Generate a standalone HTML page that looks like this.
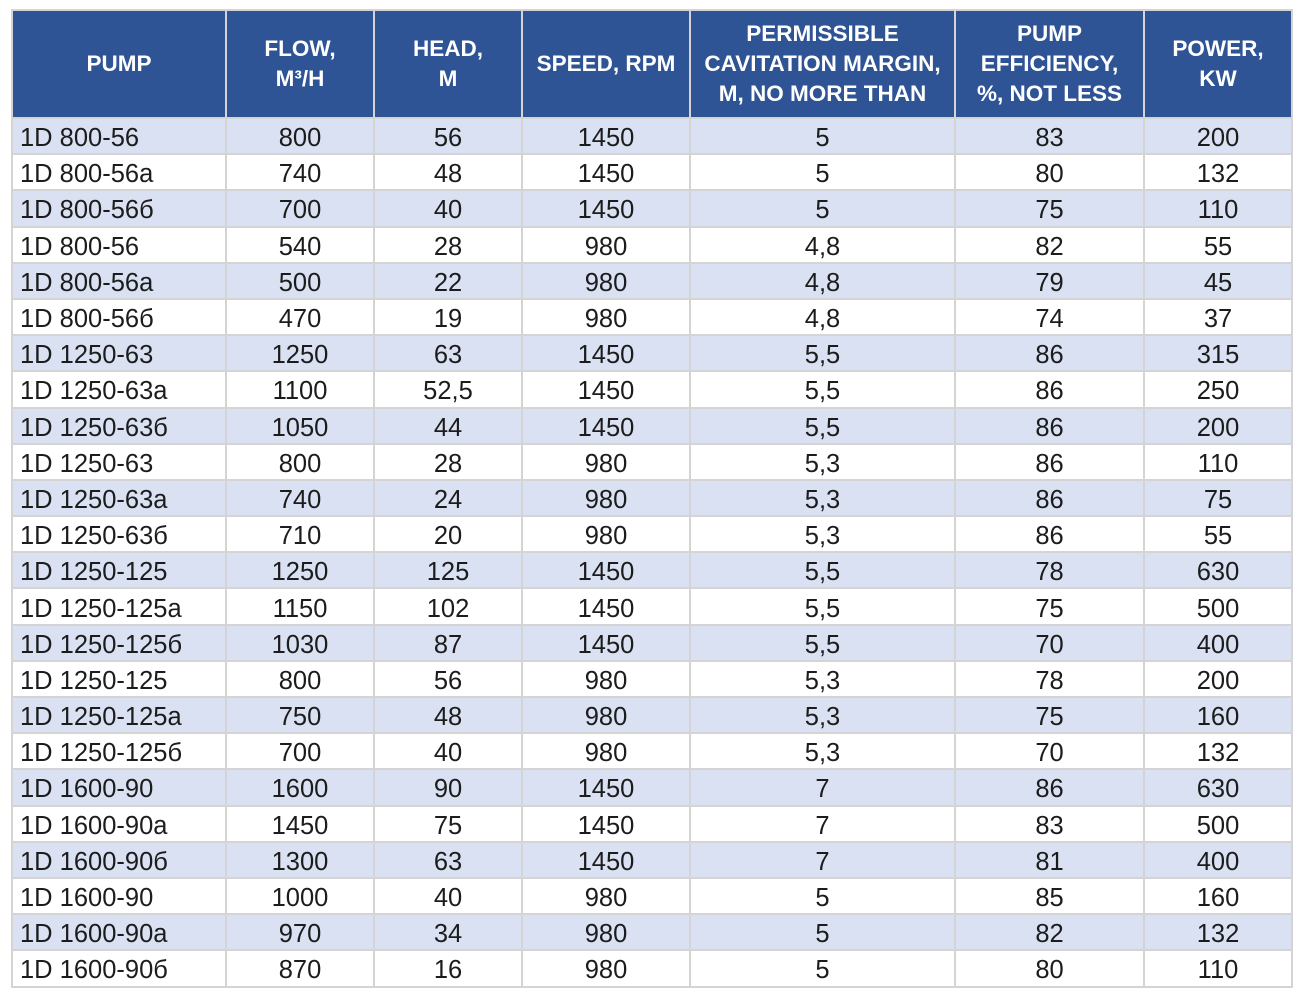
<!DOCTYPE html>
<html><head><meta charset="utf-8"><style>
html,body{margin:0;padding:0;background:#fff;width:1302px;height:1000px;overflow:hidden}
table{position:absolute;left:11px;top:9px;border-collapse:collapse;table-layout:fixed;font-family:"Liberation Sans",Arial,sans-serif}
td,th{border:2px solid #d4d4d4;padding:0;text-align:center;font-size:25.5px;color:#1c1c1c;white-space:nowrap;overflow:hidden}
td{height:30.2px;line-height:30px;padding-top:4px;vertical-align:middle}
th{background:#2f5496;color:#fff;font-weight:bold;font-size:22.5px;line-height:30px;height:106px;border-color:#d4d4d4}
td:first-child{text-align:left;padding-left:7px}
tr:nth-child(even) td{background:#d9e1f2}
tr:nth-child(odd) td{background:#fff}
</style></head><body>
<table>
<colgroup><col style="width:214px"><col style="width:148px"><col style="width:148px"><col style="width:168px"><col style="width:265px"><col style="width:189px"><col style="width:148px"></colgroup>
<tr><th>PUMP</th><th>FLOW,<br>M³/H</th><th>HEAD,<br>M</th><th>SPEED, RPM</th><th>PERMISSIBLE<br>CAVITATION MARGIN,<br>M, NO MORE THAN</th><th>PUMP<br>EFFICIENCY,<br>%, NOT LESS</th><th>POWER,<br>KW</th></tr>
<tr><td>1D 800-56</td><td>800</td><td>56</td><td>1450</td><td>5</td><td>83</td><td>200</td></tr>
<tr><td>1D 800-56a</td><td>740</td><td>48</td><td>1450</td><td>5</td><td>80</td><td>132</td></tr>
<tr><td>1D 800-56б</td><td>700</td><td>40</td><td>1450</td><td>5</td><td>75</td><td>110</td></tr>
<tr><td>1D 800-56</td><td>540</td><td>28</td><td>980</td><td>4,8</td><td>82</td><td>55</td></tr>
<tr><td>1D 800-56a</td><td>500</td><td>22</td><td>980</td><td>4,8</td><td>79</td><td>45</td></tr>
<tr><td>1D 800-56б</td><td>470</td><td>19</td><td>980</td><td>4,8</td><td>74</td><td>37</td></tr>
<tr><td>1D 1250-63</td><td>1250</td><td>63</td><td>1450</td><td>5,5</td><td>86</td><td>315</td></tr>
<tr><td>1D 1250-63a</td><td>1100</td><td>52,5</td><td>1450</td><td>5,5</td><td>86</td><td>250</td></tr>
<tr><td>1D 1250-63б</td><td>1050</td><td>44</td><td>1450</td><td>5,5</td><td>86</td><td>200</td></tr>
<tr><td>1D 1250-63</td><td>800</td><td>28</td><td>980</td><td>5,3</td><td>86</td><td>110</td></tr>
<tr><td>1D 1250-63a</td><td>740</td><td>24</td><td>980</td><td>5,3</td><td>86</td><td>75</td></tr>
<tr><td>1D 1250-63б</td><td>710</td><td>20</td><td>980</td><td>5,3</td><td>86</td><td>55</td></tr>
<tr><td>1D 1250-125</td><td>1250</td><td>125</td><td>1450</td><td>5,5</td><td>78</td><td>630</td></tr>
<tr><td>1D 1250-125a</td><td>1150</td><td>102</td><td>1450</td><td>5,5</td><td>75</td><td>500</td></tr>
<tr><td>1D 1250-125б</td><td>1030</td><td>87</td><td>1450</td><td>5,5</td><td>70</td><td>400</td></tr>
<tr><td>1D 1250-125</td><td>800</td><td>56</td><td>980</td><td>5,3</td><td>78</td><td>200</td></tr>
<tr><td>1D 1250-125a</td><td>750</td><td>48</td><td>980</td><td>5,3</td><td>75</td><td>160</td></tr>
<tr><td>1D 1250-125б</td><td>700</td><td>40</td><td>980</td><td>5,3</td><td>70</td><td>132</td></tr>
<tr><td>1D 1600-90</td><td>1600</td><td>90</td><td>1450</td><td>7</td><td>86</td><td>630</td></tr>
<tr><td>1D 1600-90a</td><td>1450</td><td>75</td><td>1450</td><td>7</td><td>83</td><td>500</td></tr>
<tr><td>1D 1600-90б</td><td>1300</td><td>63</td><td>1450</td><td>7</td><td>81</td><td>400</td></tr>
<tr><td>1D 1600-90</td><td>1000</td><td>40</td><td>980</td><td>5</td><td>85</td><td>160</td></tr>
<tr><td>1D 1600-90a</td><td>970</td><td>34</td><td>980</td><td>5</td><td>82</td><td>132</td></tr>
<tr><td>1D 1600-90б</td><td>870</td><td>16</td><td>980</td><td>5</td><td>80</td><td>110</td></tr>
</table>
</body></html>
